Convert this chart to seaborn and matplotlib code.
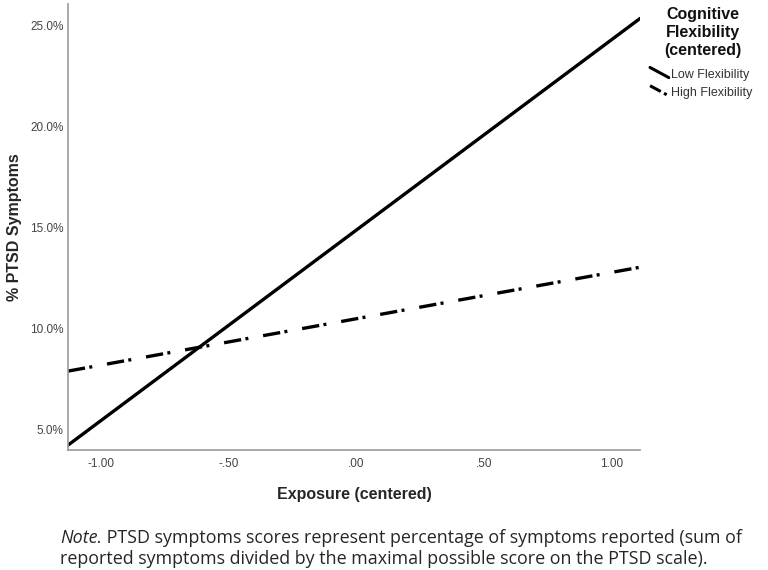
import numpy as np
import pandas as pd
import matplotlib
matplotlib.use('Agg')
from matplotlib import pyplot as plt
from matplotlib.lines import Line2D
from matplotlib.legend_handler import HandlerLine2D
import seaborn as sns

# values (ends of the two simple slopes)
exposure = [-1.13, 1.11]
low_flex = [4.20, 25.35]
high_flex = [7.87, 13.02]
group_labels = ['Low Flexibility', 'High Flexibility']
y_ticks = [5, 10, 15, 20, 25]
x_ticks = [-1.0, -0.5, 0.0, 0.5, 1.0]
x_tick_labels = ['-1.00', '-.50', '.00', '.50', '1.00']

sns.set_style('white')
plt.rcParams['font.family'] = ['Liberation Sans', 'DejaVu Sans']

dash_dot = (5.2, 1.3, 0.9, 4.5)


class SlantedHandler(HandlerLine2D):
    # SPSS draws the legend keys as short slanted strokes
    def create_artists(self, legend, orig_handle, xdescent, ydescent,
                       width, height, fontsize, trans):
        line = Line2D([0, width], [height + 1, 0])
        self.update_prop(line, orig_handle, legend)
        line.set_transform(trans)
        return [line]


df = pd.DataFrame({
    'exposure': exposure * 2,
    'ptsd': low_flex + high_flex,
    'group': [group_labels[0]] * 2 + [group_labels[1]] * 2,
})

fig = plt.figure(figsize=(7.68, 5.7), dpi=100)
ax = fig.add_axes([0.0885, 0.2105, 0.745, 0.782])

sns.lineplot(data=df, x='exposure', y='ptsd', hue='group', style='group',
             palette=['black', 'black'],
             dashes={group_labels[0]: '', group_labels[1]: dash_dot},
             linewidth=2.4, legend=False, ax=ax)

ax.set_xlim(-1.13, 1.11)
ax.set_ylim(3.96, 26.05)
ax.set_xticks(x_ticks)
ax.set_xticklabels(x_tick_labels)
ax.set_yticks(y_ticks)
ax.set_yticklabels(['%.1f%%' % v for v in y_ticks])
ax.tick_params(axis='both', length=0, labelsize=8.5, labelcolor='#444444')
ax.tick_params(axis='x', pad=6)
ax.tick_params(axis='y', pad=3)

for side in ['top', 'right']:
    ax.spines[side].set_visible(False)
for side in ['left', 'bottom']:
    ax.spines[side].set_color('#999999')
    ax.spines[side].set_linewidth(1.2)

ax.set_xlabel('Exposure (centered)', fontsize=11.5, fontweight='bold', labelpad=12)
ax.set_ylabel('% PTSD Symptoms', fontsize=11.5, fontweight='bold', labelpad=6)

# legend title drawn on its own so the line spacing can follow the original
fig.text(0.915, 0.987, 'Cognitive\nFlexibility\n(centered)', ha='center',
         va='top', fontsize=11.5, fontweight='bold', linespacing=1.25,
         color='#111111')

handles = [Line2D([], [], color='black', lw=2.2),
           Line2D([], [], color='black', lw=2.2, dashes=(4, 1.2, 1, 3))]
leg = fig.legend(handles, group_labels, loc='upper left',
                 bbox_to_anchor=(0.835, 0.895), frameon=False,
                 fontsize=9, handlelength=1.5, handletextpad=0.15,
                 labelspacing=0.5, borderpad=0.2,
                 handler_map={Line2D: SlantedHandler()})
for t in leg.get_texts():
    t.set_color('#333333')

note_font = ['Open Sans', 'DejaVu Sans']
note_size = 12.9
t1 = fig.text(0.078, 0.047, 'Note.', fontsize=note_size, style='italic',
              family=note_font)
ax.annotate(' PTSD symptoms scores represent percentage of symptoms reported (sum of',
            xy=(1, 0), xycoords=t1, fontsize=note_size, family=note_font,
            va='bottom', ha='left', annotation_clip=False)
fig.text(0.078, 0.011,
         'reported symptoms divided by the maximal possible score on the PTSD scale).',
         fontsize=note_size, family=note_font)

plt.savefig('out.png', dpi=100)
